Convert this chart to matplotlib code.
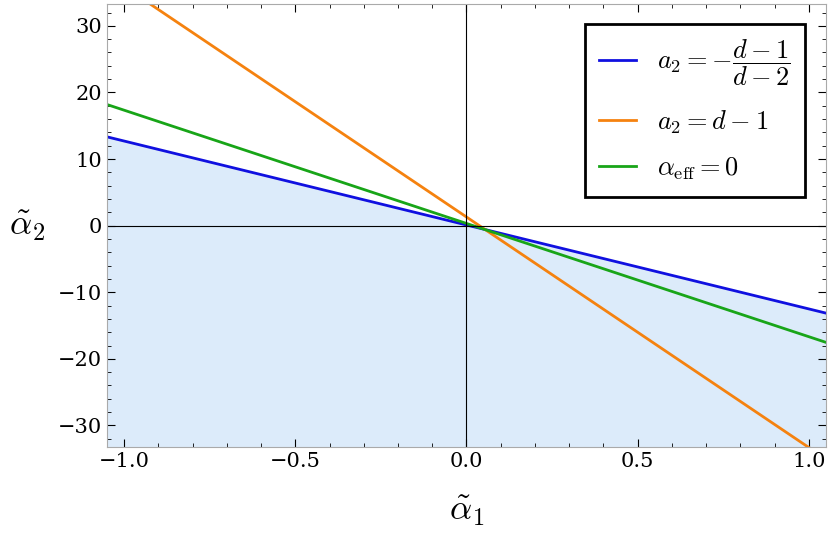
import numpy as np
import matplotlib
matplotlib.use("Agg")
import matplotlib.pyplot as plt
from matplotlib.ticker import MultipleLocator

plt.rcParams["font.family"] = "DejaVu Serif"
plt.rcParams["mathtext.fontset"] = "cm"

x_range = [-1.05, 1.05]
labels = [r"$a_2=-\dfrac{d-1}{d-2}$", r"$a_2=d-1$", r"$\alpha_{\rm eff}=0$"]
colors = ["#1010e0", "#f5820f", "#18a518"]
slopes = [-12.6, -34.6, -17.0]
intercepts = [0.1, 1.3, 0.33]
xticks = [-1.0, -0.5, 0.0, 0.5, 1.0]
yticks = [-30, -20, -10, 0, 10, 20, 30]
ylim = [-33.3, 33.3]

fig = plt.figure(figsize=(8.3, 5.49), dpi=100)
ax = fig.add_axes([0.129, 0.185, 0.866, 0.808])
x = np.linspace(*x_range, 200)
yb = slopes[0] * x + intercepts[0]
ax.fill_between(x, ylim[0], yb, color="#dcebfa", lw=0)
for s, b, c, l in zip(slopes, intercepts, colors, labels):
    ax.plot(x, s * x + b, color=c, lw=2, label=l)
ax.axhline(0, color="black", lw=0.8)
ax.axvline(0, color="black", lw=0.8)
ax.set_xlim(x_range)
ax.set_ylim(ylim)
ax.set_xticks(xticks)
ax.set_xticklabels(["\u22121.0", "\u22120.5", "0.0", "0.5", "1.0"])
ax.set_yticks(yticks)
ax.set_yticklabels([f"\u2212{abs(t)}" if t < 0 else str(t) for t in yticks])
ax.xaxis.set_minor_locator(MultipleLocator(0.1))
ax.yaxis.set_minor_locator(MultipleLocator(2))
ax.tick_params(which="both", direction="in", labelsize=15, top=True, right=True)
ax.tick_params(which="major", length=6)
ax.tick_params(which="minor", length=3)
for sp in ax.spines.values():
    sp.set_color("#aaaaaa")
ax.set_xlabel(r"$\tilde{\alpha}_1$", fontsize=25, labelpad=16)
ax.set_ylabel(r"$\tilde{\alpha}_2$", fontsize=25, rotation=0, labelpad=22, va="center")
leg = ax.legend(loc="upper right", fontsize=19, fancybox=False, framealpha=1,
                edgecolor="black", handlelength=1.4, borderpad=0.55, labelspacing=0.75,
                bbox_to_anchor=(0.99, 0.985))
leg.get_frame().set_linewidth(2)
fig.savefig("out.png", dpi=100)
